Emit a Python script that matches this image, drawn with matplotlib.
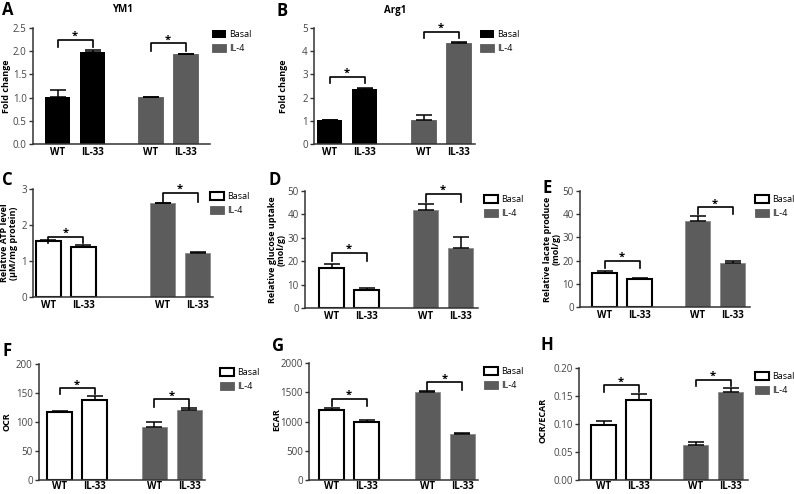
import matplotlib
matplotlib.use('Agg')
import matplotlib.pyplot as plt
from matplotlib.patches import Patch
import numpy as np

plt.rcParams['font.family'] = ['Open Sans', 'DejaVu Sans']

W, H = 794, 494
GREY = '#5c5c5c'

groups = ['WT', 'IL-33', 'WT', 'IL-33']
legend_labels = ['Basal', 'IL-4']

# bar order: Basal WT, Basal IL-33, IL-4 WT, IL-4 IL-33
ym1 = [1.02, 1.99, 1.01, 1.94]
ym1_err = [0.14, 0.03, 0.01, 0.01]
arg1 = [1.03, 2.35, 1.05, 4.36]
arg1_err = [0.01, 0.08, 0.18, 0.04]
atp = [1.55, 1.38, 2.60, 1.23]
atp_err = [0.04, 0.07, 0.02, 0.02]
glucose = [16.9, 7.8, 42.0, 25.7]
glucose_err = [1.9, 0.9, 2.4, 4.7]
lactate = [14.7, 11.9, 36.9, 19.0]
lactate_err = [0.9, 0.4, 2.3, 0.8]
ocr = [117, 138, 92, 120]
ocr_err = [2, 6, 8, 4]
ecar = [1205, 983, 1500, 778]
ecar_err = [28, 45, 22, 28]
ratio = [0.099, 0.142, 0.063, 0.158]
ratio_err = [0.006, 0.012, 0.004, 0.006]

fig = plt.figure(figsize=(W / 100, H / 100), dpi=100)


def px_box(l, t, r, b):
    return [l / W, 1 - b / H, (r - l) / W, (b - t) / H]


def panel(box, bar0, gap, vals, errs, ylim, step, fmt, brackets, solid, leg_xy,
          xpad=2.5):
    l, t, r, b = box
    ax = fig.add_axes(px_box(l, t, r, b))
    unit = 35.0
    width = 25 / unit
    xs = [0, 1, gap, gap + 1]
    x0 = -width / 2 - (bar0 - l) / unit
    ax.set_xlim(x0, x0 + (r - l) / unit)
    ax.set_ylim(*ylim)

    basal_fc = 'black' if solid else 'white'
    basal_lw = 0 if solid else 1.5
    grey_ec = GREY if solid else '#8a8a8a'
    for i in range(4):
        if i < 2:
            ax.bar(xs[i], vals[i], width, color=basal_fc, edgecolor='black',
                   linewidth=basal_lw, zorder=2)
        else:
            ax.bar(xs[i], vals[i], width, color=GREY, edgecolor=grey_ec,
                   linewidth=0.6, zorder=2)
        ax.errorbar(xs[i], vals[i], yerr=[[0], [errs[i]]], fmt='none',
                    ecolor='black', elinewidth=1.1, capsize=5.5, capthick=1.1,
                    zorder=3)

    for (a, c), (top, bot) in zip([(0, 1), (2, 3)], brackets):
        ax.plot([xs[a], xs[a], xs[c], xs[c]], [bot, top, top, bot],
                color='black', lw=1.2, clip_on=False, zorder=4)
        ax.annotate('*', xy=((xs[a] + xs[c]) / 2, top), xytext=(0, -1.5),
                    textcoords='offset points', ha='center', va='bottom',
                    fontsize=8, fontweight='bold', annotation_clip=False)

    ax.set_yticks(np.arange(ylim[0], ylim[1] + step / 2, step))
    ax.yaxis.set_major_formatter(plt.FormatStrFormatter(fmt))
    ax.set_xticks(xs)
    ax.set_xticklabels(groups, fontweight='bold', fontsize=7)
    ax.tick_params(axis='x', length=0, pad=xpad)
    ax.tick_params(axis='y', length=3, width=1, labelsize=7, pad=1.5,
                   labelcolor='#444444', color='#333333')
    for s in ['top', 'right']:
        ax.spines[s].set_visible(False)
    for s in ['left', 'bottom']:
        ax.spines[s].set_linewidth(1.1)
        ax.spines[s].set_color('#333333')

    handles = [Patch(facecolor=basal_fc, edgecolor='black', linewidth=1.5 if not solid else 0),
               Patch(facecolor=GREY, edgecolor=GREY, linewidth=0.6)]
    ax.legend(handles, legend_labels, loc='upper left',
              bbox_to_anchor=(leg_xy[0] / W, 1 - leg_xy[1] / H),
              bbox_transform=fig.transFigure, frameon=False, fontsize=6.5,
              handlelength=1.6, handleheight=0.95, handletextpad=0.3,
              labelspacing=0.6, borderpad=0, borderaxespad=0)
    return ax


panel((33, 28, 210, 144), 45, 2.66, ym1, ym1_err, (0, 2.5), 0.5, '%.1f',
      [(2.24, 2.10), (2.17, 2.0)], True, (212, 30))
panel((314, 28, 475, 144), 317, 2.69, arg1, arg1_err, (0, 5), 1, '%d',
      [(2.89, 2.63), (4.83, 4.57)], True, (480, 30))
panel((33, 189, 213, 297), 36, 3.26, atp, atp_err, (0, 3), 1, '%d',
      [(1.67, 1.5), (2.89, 2.64)], False, (210, 192))
panel((305, 191, 478, 308), 319, 2.69, glucose, glucose_err, (0, 50), 10, '%d',
      [(23.5, 20), (48.7, 45.3)], False, (484, 195))
panel((580, 191, 750, 307), 592, 2.66, lactate, lactate_err, (0, 50), 10, '%d',
      [(19.8, 16.8), (43, 40)], False, (755, 195))
panel((39, 364, 205, 480), 47, 2.71, ocr, ocr_err, (0, 200), 50, '%d',
      [(158, 148), (139, 126)], False, (220, 368), xpad=0.5)
panel((309, 363, 478, 480), 319, 2.74, ecar, ecar_err, (0, 2000), 500, '%d',
      [(1383, 1267), (1667, 1533)], False, (484, 367), xpad=0.5)
panel((579, 368, 748, 480), 591, 2.63, ratio, ratio_err, (0, 0.2), 0.05, '%.2f',
      [(0.169, 0.157), (0.179, 0.167)], False, (755, 372), xpad=0.5)

letters = [('A', 2, 1), ('B', 276, 2), ('C', 2, 171), ('D', 268, 171),
           ('E', 543, 179), ('F', 3, 342), ('G', 272, 337), ('H', 540, 336)]
for s, x, y in letters:
    fig.text(x / W, 1 - y / H, s, fontsize=12, fontweight='bold', ha='left', va='top')

fig.text(123 / W, 1 - 10 / H, 'YM1', fontsize=7, fontweight='bold', ha='center', va='center')
fig.text(395 / W, 1 - 10 / H, 'Arg1', fontsize=7, fontweight='bold', ha='center', va='center')

ylabels = [('Fold change', 7, 86), ('Fold change', 283, 86),
           ('Relative ATP level\n(μM/mg protein)', 9, 243),
           ('Relative glucose uptake\n(mol/g)', 277, 250),
           ('Relative lacate produce\n(mol/g)', 552, 249),
           ('OCR', 7, 422), ('ECAR', 277, 420), ('OCR/ECAR', 543, 420)]
for s, x, y in ylabels:
    fig.text(x / W, 1 - y / H, s, fontsize=6.5, fontweight='bold', rotation=90,
             ha='center', va='center', linespacing=1.0, multialignment='center')

fig.savefig('out.png', dpi=100)
